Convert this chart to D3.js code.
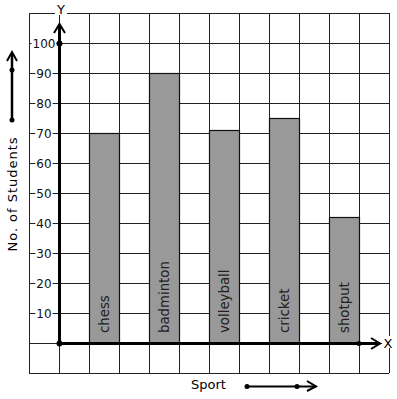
<!DOCTYPE html>
<html><head><meta charset="utf-8">
<script src="https://cdn.jsdelivr.net/npm/d3@7"></script>
<style>body{margin:0;background:#fff}svg{display:block}text{font-family:"DejaVu Sans",sans-serif}</style>
</head><body>
<script>
const sports = ["chess","badminton","volleyball","cricket","shotput"];
const students = [70, 90, 71, 75, 42];
const yTicks = [10,20,30,40,50,60,70,80,90,100];

const W=397,H=399;
const svg=d3.select("body").append("svg").attr("width",W).attr("height",H);
const x0=59, y0=343, cell=30;
const y=d3.scaleLinear().domain([0,100]).range([y0,y0-10*cell]);
const x=d3.scaleBand().domain(sports).range([x0+cell, x0+cell+9*cell]).paddingInner(0.5).paddingOuter(0);

// grid
const g=svg.append("g");
for(let i=0;i<=12;i++){
  g.append("line").attr("x1",29+i*cell+0.5).attr("x2",29+i*cell+0.5).attr("y1",13).attr("y2",373).attr("stroke","#222").attr("stroke-width",1);
  g.append("line").attr("y1",13+i*cell+0.5).attr("y2",13+i*cell+0.5).attr("x1",29).attr("x2",389).attr("stroke","#222").attr("stroke-width",1);
}

// bars
svg.selectAll("rect.bar").data(sports).join("rect").attr("class","bar")
 .attr("x",d=>x(d)+0.5).attr("width",x.bandwidth())
 .attr("y",(d,i)=>y(students[i])+0.5).attr("height",(d,i)=>y0-y(students[i]))
 .attr("fill","#999").attr("stroke","#111").attr("stroke-width",1.2);

svg.selectAll("text.bl").data(sports).join("text").attr("class","bl")
 .attr("transform",d=>`translate(${x(d)+x.bandwidth()/2+5},333) rotate(-90)`)
 .attr("font-size",13.3).attr("fill","#222").text(d=>d);

// y tick labels with white background hiding grid line
const yl=svg.selectAll("g.yt").data(yTicks).join("g").attr("class","yt");
yl.append("text").attr("x",44).attr("y",d=>y(d)+5).attr("text-anchor","middle").attr("font-size",12).attr("fill","#111").text(d=>d)
  .each(function(){
    const b=this.getBBox();
    d3.select(this.parentNode).insert("rect","text").attr("x",b.x-1).attr("y",b.y+2).attr("width",b.width+2).attr("height",b.height-4).attr("fill","#fff");
  });

// axes
svg.append("line").attr("x1",x0+0.5).attr("x2",x0+0.5).attr("y1",y0).attr("y2",26).attr("stroke","#000").attr("stroke-width",3);
svg.append("path").attr("d",`M${x0-5},${33} L${x0+0.5},${24} L${x0+6},${33}`).attr("fill","none").attr("stroke","#000").attr("stroke-width",2);
svg.append("line").attr("x1",x0).attr("x2",380).attr("y1",y0+0.5).attr("y2",y0+0.5).attr("stroke","#000").attr("stroke-width",3);
svg.append("path").attr("d",`M${371},${y0-5} L${380},${y0+0.5} L${371},${y0+6}`).attr("fill","none").attr("stroke","#000").attr("stroke-width",2);
svg.append("circle").attr("cx",x0+0.5).attr("cy",y0+0.5).attr("r",3);
svg.append("circle").attr("cx",x0+0.5).attr("cy",y(100)+0.5).attr("r",3);
svg.append("circle").attr("cx",359).attr("cy",y0+0.5).attr("r",2.5);

svg.append("rect").attr("x",55).attr("y",3).attr("width",12).attr("height",12).attr("fill","#fff");
svg.append("text").attr("x",61).attr("y",14).attr("text-anchor","middle").attr("font-size",13).text("Y");
svg.append("rect").attr("x",382).attr("y",336).attr("width",12).attr("height",12).attr("fill","#fff");
svg.append("text").attr("x",388).attr("y",348).attr("text-anchor","middle").attr("font-size",13).text("X");

// left legend
svg.append("line").attr("x1",12).attr("x2",12).attr("y1",120).attr("y2",53).attr("stroke","#000").attr("stroke-width",2.5);
svg.append("path").attr("d","M7,61 L12,52 L17,61").attr("fill","none").attr("stroke","#000").attr("stroke-width",2);
svg.append("circle").attr("cx",12).attr("cy",120).attr("r",2.5);
svg.append("circle").attr("cx",12).attr("cy",70).attr("r",2.5);
svg.append("text").attr("transform","translate(17,194.5) rotate(-90)").attr("text-anchor","middle").attr("font-size",13)
  .attr("textLength",114).attr("lengthAdjust","spacing").text("No. of Students");

// bottom legend
svg.append("text").attr("x",191).attr("y",389).attr("font-size",13).text("Sport");
svg.append("line").attr("x1",247).attr("x2",316).attr("y1",386.5).attr("y2",386.5).attr("stroke","#000").attr("stroke-width",2);
svg.append("path").attr("d","M307,381 L316,386.5 L307,391").attr("fill","none").attr("stroke","#000").attr("stroke-width",2);
svg.append("circle").attr("cx",247).attr("cy",386.5).attr("r",2.5);
svg.append("circle").attr("cx",297).attr("cy",386.5).attr("r",2.5);
</script>
</body></html>
